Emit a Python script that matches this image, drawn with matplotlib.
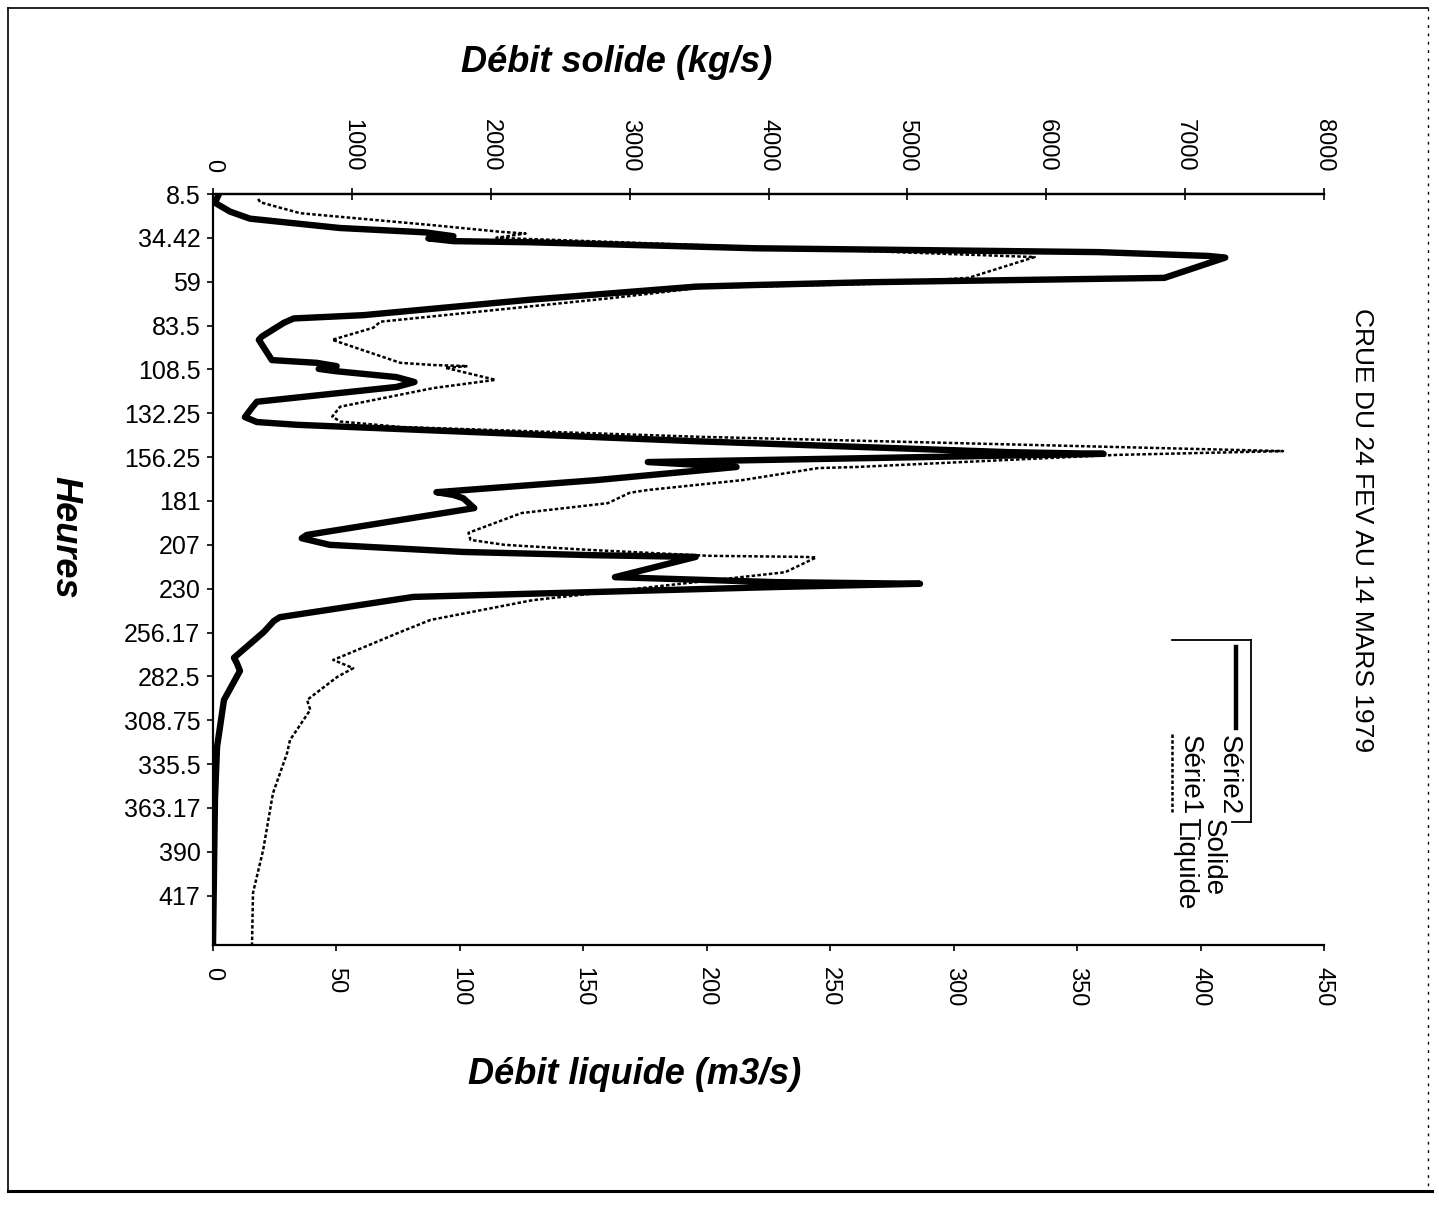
import matplotlib
matplotlib.use('Agg')
import matplotlib.pyplot as plt
from matplotlib.lines import Line2D

# hour labels shown on the category axis (one every STEP samples)
heures = ['8.5', '34.42', '59', '83.5', '108.5', '132.25', '156.25', '181',
          '207', '230', '256.17', '282.5', '308.75', '335.5', '363.17',
          '390', '417']
N_CAT = 138
STEP = 8

# Série2 : débit solide (kg/s), sample index -> value
solide_pos = [0.0, 1.6, 3.2, 4.5, 6.2, 7.0, 7.7, 8.1, 8.6, 8.8, 9.6, 9.9,
              10.2, 10.6, 11.3, 11.6, 15.3, 15.7, 16.1, 16.6, 16.9, 19.3,
              22.1, 22.7, 23.5, 26.0, 26.6, 30.3, 30.8, 31.4, 31.9, 32.3,
              33.4, 34.3, 35.2, 37.9, 39.0, 40.7, 41.6, 42.1, 43.1, 45.1,
              47.1, 47.4, 48.9, 49.8, 52.2, 54.4, 54.9, 55.5, 57.3, 62.2,
              62.8, 64.0, 65.3, 65.9, 66.2, 69.9, 70.8, 71.1, 71.7, 72.6,
              73.5, 77.2, 77.9, 79.9, 84.6, 85.6, 87.0, 92.3, 100.9, 110.5,
              137.0]
solide_kgs = [43, 14, 122, 266, 912, 1530, 1731, 1551, 1731, 2276, 3476, 3906,
              4969, 6377, 7167, 7289, 6851, 5766, 4704, 3906, 3476, 2276,
              1084, 582, 510, 352, 330, 424, 747, 890, 761, 876,
              1321, 1451, 1321, 316, 280, 230, 316, 603, 1558, 3476,
              5738, 6413, 3131, 3770, 2757, 1609, 1731, 1802, 1881, 675,
              639, 840, 1802, 2757, 3476, 2894, 4043, 5091, 4043, 2757,
              1443, 481, 438, 366, 151, 172, 194, 79, 29, 14,
              0]

# Série1 : débit liquide (m3/s)
liquide_pos = [0.9, 1.5, 3.5, 5.7, 6.9, 7.2, 8.0, 11.5, 15.3, 16.4, 17.1, 19.0,
               23.3, 24.4, 26.6, 30.8, 31.2, 31.4, 31.7, 33.9, 35.4, 38.8,
               40.6, 41.5, 42.5, 44.3, 46.9, 47.6, 49.8, 50.0, 52.2, 54.0,
               54.5, 56.4, 58.2, 61.8, 63.1, 64.0, 64.9, 66.0, 66.2, 66.3,
               69.0, 74.1, 77.7, 79.9, 85.0, 86.5, 88.1, 92.3, 94.1, 99.6,
               102.0, 109.3, 119.7, 127.5, 137.0]
liquide_m3s = [18.3, 19.1, 35.3, 89.3, 116.5, 126.6, 114.8, 332.8, 306.0, 267.0,
               197.6, 161.1, 67.8, 64.9, 48.3, 75.9, 89.3, 103.1, 94.1, 114.4,
               89.3, 51.5, 48.3, 51.5, 75.9, 197.6, 433.4, 365.6, 260.5, 245.1,
               214.3, 176.1, 168.8, 159.9, 125.0, 103.5, 104.3, 118.1, 151.4,
               200.5, 239.4, 244.3, 231.7, 129.4, 88.1, 75.9, 48.7, 56.8, 50.3,
               38.1, 39.4, 31.2, 30.0, 24.3, 20.3, 16.2, 15.8]

W, H = 1439, 1205


def fx(x):
    return x / W


def fy(y):
    return 1 - y / H


plt.rcParams['font.family'] = ['Liberation Sans', 'DejaVu Sans']
fig = plt.figure(figsize=(W / 100, H / 100), dpi=100)
ax = fig.add_axes([fx(213), fy(945), fx(1324) - fx(213), fy(194) - fy(945)])
ax2 = ax.twiny()

DOT = (0, (1.4, 0.9))
ax.plot(liquide_m3s, liquide_pos, color='black', lw=1.8, ls=DOT)
ax2.plot(solide_kgs, solide_pos, color='black', lw=4.6,
         solid_joinstyle='round', solid_capstyle='round')

ax.set_ylim(N_CAT - 1, 0)
ax.set_xlim(0, 450)
ax2.set_xlim(0, 8000)
ax.set_yticks(range(0, STEP * len(heures), STEP))
ax.set_yticklabels(heures)
ax.set_xticks(range(0, 451, 50))
ax2.set_xticks(range(0, 8001, 1000))

for a in (ax, ax2):
    a.spines['right'].set_visible(False)
    for s in a.spines.values():
        s.set_linewidth(1.6)
ax2.spines['bottom'].set_visible(False)
ax2.spines['left'].set_visible(False)

ax.tick_params(axis='y', length=4, width=1.2, labelsize=18, pad=5)
ax.tick_params(axis='x', length=4, width=1.2, labelsize=17, pad=12,
               labelrotation=-90)
ax2.tick_params(axis='x', direction='inout', length=8, width=1.2,
                labelsize=17, pad=12, labelrotation=-90)

# axis titles
fig.text(fx(617), fy(62), 'Débit solide (kg/s)', ha='center', va='center',
         fontsize=26, fontweight='bold', fontstyle='italic')
fig.text(fx(635), fy(1075), 'Débit liquide (m3/s)', ha='center', va='center',
         fontsize=26, fontweight='bold', fontstyle='italic')
fig.text(fx(65), fy(537), 'Heures', ha='center', va='center', rotation=-90,
         fontsize=26, fontweight='bold', fontstyle='italic')
fig.text(fx(1362), fy(530), 'CRUE DU 24 FEV AU 14 MARS 1979', ha='center',
         va='center', rotation=-90, fontsize=19)

# legend, written sideways like the rest of the sheet
fig.add_artist(Line2D([fx(1236), fx(1236)], [fy(647), fy(728)],
                      color='black', lw=3.2))
fig.add_artist(Line2D([fx(1172), fx(1172)], [fy(734), fy(812)],
                      color='black', lw=1.8, ls=DOT))
fig.text(fx(1229), fy(775), 'Série2', rotation=-90, ha='center', va='center',
         fontsize=20)
fig.text(fx(1190), fy(775), 'Série1', rotation=-90, ha='center', va='center',
         fontsize=20)
fig.text(fx(1213), fy(858), 'Solide', rotation=-90, ha='center', va='center',
         fontsize=20)
fig.text(fx(1184), fy(867), 'Liquide', rotation=-90, ha='center', va='center',
         fontsize=20)
box = dict(color='black', lw=1.3)
fig.add_artist(Line2D([fx(1172), fx(1251)], [fy(640), fy(640)], **box))
fig.add_artist(Line2D([fx(1251), fx(1251)], [fy(640), fy(822)], **box))
fig.add_artist(Line2D([fx(1232), fx(1251)], [fy(822), fy(822)], **box))
fig.add_artist(Line2D([fx(1200), fx(1200)], [fy(820), fy(836)], **box))

# sheet frame
fig.add_artist(Line2D([fx(8), fx(8)], [fy(8), fy(1192)], color='black', lw=1.2))
fig.add_artist(Line2D([fx(8), fx(1428)], [fy(8), fy(8)], color='black', lw=1.2))
fig.add_artist(Line2D([fx(8), fx(1432)], [fy(1191), fy(1191)], color='black',
                      lw=2.2))
fig.add_artist(Line2D([fx(1428), fx(1428)], [fy(8), fy(1191)], color='black',
                      lw=1.0, ls=(0, (2, 4))))

fig.savefig('out.png', dpi=100)
